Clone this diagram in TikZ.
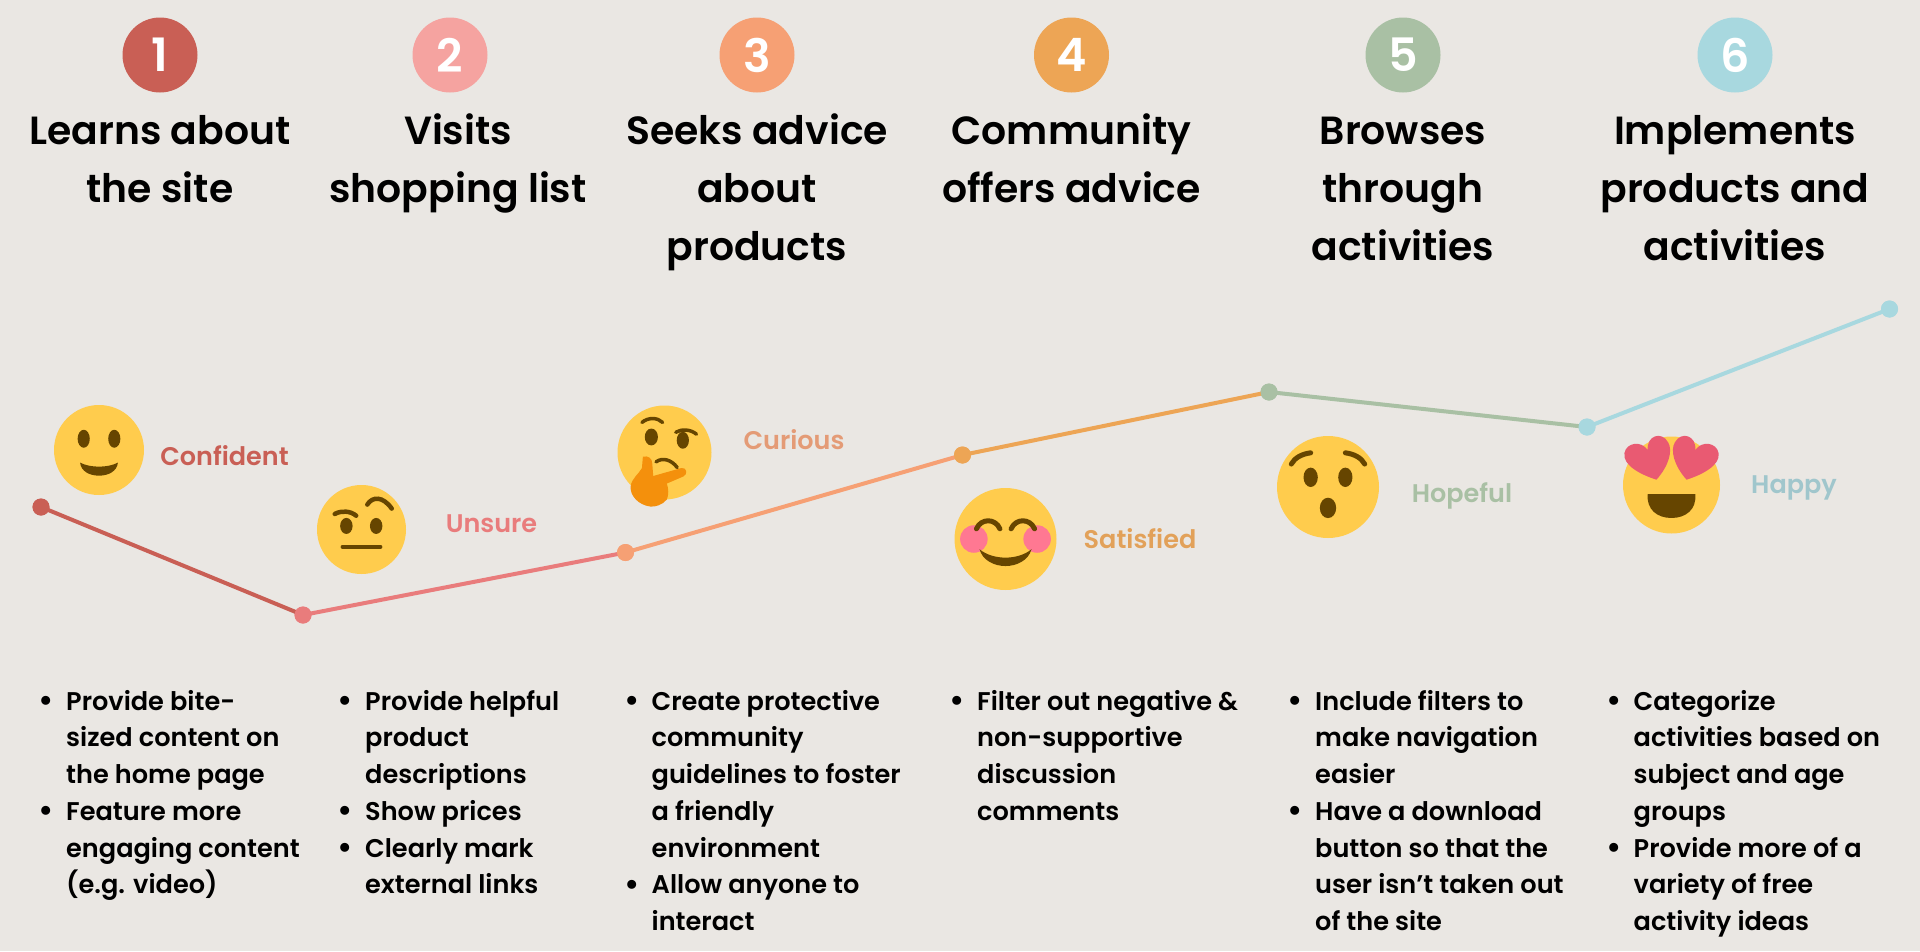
\documentclass[tikz,border=0pt]{standalone}
\usepackage{fontspec}
\setmainfont{Poppins SemiBold}
\definecolor{bgc}{HTML}{EAE7E3}
\definecolor{cA}{HTML}{C95F55}
\definecolor{cB}{HTML}{F5A3A0}
\definecolor{cC}{HTML}{F6A074}
\definecolor{cD}{HTML}{EDA555}
\definecolor{cE}{HTML}{A9C0A4}
\definecolor{cF}{HTML}{A8D8DF}
\definecolor{lB}{HTML}{E97C7C}
\definecolor{yel}{HTML}{FFCC4D}
\definecolor{brn}{HTML}{664500}
\definecolor{hand}{HTML}{F4900C}
\definecolor{pinkc}{HTML}{FF7892}
\definecolor{heartc}{HTML}{E95A72}
\newcommand{\bitem}[1]{\llap{\raisebox{-1.5pt}{\fontsize{32}{32}\selectfont\textbullet}\hspace{12pt}}#1}
\tikzset{
  x=1pt,y=-1pt,
  numdisc/.style={circle,minimum size=75pt,inner sep=0pt,text=white,font=\fontsize{46}{46}\selectfont},
  headtext/.style={align=center,inner sep=0pt,anchor=north,text=black,font=\fontsize{39.3}{58}\selectfont},
  bodytext/.style={align=left,inner sep=0pt,anchor=north west,text=black,font=\fontsize{25.6}{36.7}\selectfont},
  moodtext/.style={inner sep=0pt,anchor=base,font=\fontsize{25.5}{25.5}\selectfont},
  dotmark/.style={circle,minimum size=17pt,inner sep=0pt,fill=#1},
  seg/.style={draw=#1,line width=4pt},
  emo/.style n args={3}{shift={(#1,#2)},x=#3 pt,y=-#3 pt},
  face/.style={fill=yel},
  feat/.style={fill=brn},
  stroke/.style={draw=brn,line width=#1pt,line cap=round},
}
\begin{document}
\begin{tikzpicture}
\fill[bgc] (0,0) rectangle (1920,951);
\useasboundingbox (0,0) rectangle (1920,951);

% numbered discs
\node[numdisc,fill=cA] (n1) at (160,55) {1};
\node[numdisc,fill=cB] (n2) at (450,55) {2};
\node[numdisc,fill=cC] (n3) at (757,55) {3};
\node[numdisc,fill=cD] (n4) at (1071.5,55) {4};
\node[numdisc,fill=cE] (n5) at (1403,55) {5};
\node[numdisc,fill=cF] (n6) at (1735,55) {6};

% headings
\node[headtext] (h1) at (160,103.4) {\strut Learns about\\the site};
\node[headtext] (h2) at (458,103.4) {\strut Visits\\shopping list};
\node[headtext] (h3) at (757,103.4) {\strut Seeks advice\\about\\products};
\node[headtext] (h4) at (1071.5,103.4) {\strut Community\\offers advice};
\node[headtext] (h5) at (1403,103.4) {\strut Browses\\through\\activities};
\node[headtext] (h6) at (1735,103.4) {\strut Implements\\products and\\activities};

% journey line
\node[dotmark=cA] (p1) at (41,507) {};
\node[dotmark=lB] (p2) at (303,615) {};
\node[dotmark=cC] (p3) at (625.5,552.5) {};
\node[dotmark=cD] (p4) at (962.5,455) {};
\node[dotmark=cE] (p5) at (1269,392) {};
\node[dotmark=cF] (p6) at (1587,427) {};
\node[dotmark=cF] (p7) at (1889.5,309) {};
\draw[seg=cA] (p1.center) -- (p2.center);
\draw[seg=lB] (p2.center) -- (p3.center);
\draw[seg=cC] (p3.center) -- (p4.center);
\draw[seg=cD] (p4.center) -- (p5.center);
\draw[seg=cE] (p5.center) -- (p6.center);
\draw[seg=cF] (p6.center) -- (p7.center);
\node[dotmark=cA] at (p1) {};
\node[dotmark=lB] at (p2) {};
\node[dotmark=cC] at (p3) {};
\node[dotmark=cD] at (p4) {};
\node[dotmark=cE] at (p5) {};
\node[dotmark=cF] at (p6) {};
\node[dotmark=cF] at (p7) {};

% mood labels
\node[moodtext,text=cA] (m1) at (224.5,465.5) {Confident};
\node[moodtext,text=lB] (m2) at (491.5,532.7) {Unsure};
\node[moodtext,text=cC!85!gray] (m3) at (794,449) {Curious};
\node[moodtext,text=cD!90!gray] (m4) at (1140,548) {Satisfied};
\node[moodtext,text=cE] (m5) at (1462,502) {Hopeful};
\node[moodtext,text=cF!80!gray] (m6) at (1794,493.7) {Happy};

% emoji 1: smile
\begin{scope}[emo={99}{450}{45}]
\fill[face] (0,0) circle [radius=1];
\fill[feat] (-.34,-.25) ellipse [x radius=.135,y radius=.2];
\fill[feat] (.34,-.25) ellipse [x radius=.135,y radius=.2];
\fill[feat] (-.42,.28) .. controls (-.2,.4) and (.2,.4) .. (.42,.28) .. controls (.4,.48) and (.2,.57) .. (0,.57) .. controls (-.2,.57) and (-.4,.48) .. cycle;
\end{scope}

% emoji 2: raised brow
\begin{scope}[emo={361.5}{529.5}{44.5}]
\fill[face] (0,0) circle [radius=1];
\fill[feat] (-.34,-.08) ellipse [x radius=.14,y radius=.18];
\fill[feat] (.33,-.08) ellipse [x radius=.14,y radius=.18];
\draw[stroke=4.5] (-.42,.39) -- (.42,.39);
\draw[stroke=4.5] (-.6,-.35) .. controls (-.45,-.43) and (-.25,-.42) .. (-.12,-.31);
\draw[stroke=4.5] (.13,-.56) .. controls (.25,-.75) and (.48,-.75) .. (.68,-.47);
\end{scope}

% emoji 3: thinking
\begin{scope}[emo={664.5}{452.5}{47}]
\fill[face] (0,0) circle [radius=1];
\fill[feat] (-.28,-.33) ellipse [x radius=.14,y radius=.18];
\fill[feat] (.39,-.26) ellipse [x radius=.13,y radius=.18];
\draw[stroke=3.5] (-.48,-.64) .. controls (-.35,-.75) and (-.15,-.75) .. (-.04,-.64);
\draw[stroke=3.5] (.24,-.43) .. controls (.35,-.5) and (.55,-.5) .. (.68,-.39);
\draw[stroke=3.5] (-.18,.2) .. controls (-.05,.1) and (.15,.15) .. (.27,.32);
\fill[hand] (-.46,.09) .. controls (-.35,.06) and (-.26,.12) .. (-.26,.24) -- (-.24,.5) -- (.36,.33) .. controls (.48,.31) and (.5,.47) .. (.4,.51) -- (.05,.66) .. controls (.09,.78) and (.09,.9) .. (.05,1) .. controls (-.05,1.12) and (-.2,1.16) .. (-.3,1.15) .. controls (-.55,1.12) and (-.74,.92) .. (-.72,.72) .. controls (-.7,.55) and (-.54,.45) .. (-.48,.33) -- cycle;
\end{scope}

% emoji 4: blush
\begin{scope}[emo={1005.5}{539}{51}]
\fill[face] (0,0) circle [radius=1];
\fill[pinkc] (-.62,0) circle [radius=.27];
\fill[pinkc] (.62,0) circle [radius=.27];
\draw[stroke=5] (-.57,-.2) .. controls (-.48,-.41) and (-.2,-.41) .. (-.11,-.2);
\draw[stroke=5] (.57,-.2) .. controls (.48,-.41) and (.2,-.41) .. (.11,-.2);
\fill[feat] (-.51,.2) .. controls (-.25,.42) and (.25,.42) .. (.51,.2) .. controls (.45,.42) and (.22,.53) .. (0,.53) .. controls (-.22,.53) and (-.45,.42) .. cycle;
\end{scope}

% emoji 5: hushed
\begin{scope}[emo={1328}{487}{51}]
\fill[face] (0,0) circle [radius=1];
\fill[feat] (-.34,-.19) ellipse [x radius=.14,y radius=.19];
\fill[feat] (.34,-.19) ellipse [x radius=.14,y radius=.19];
\fill[feat] (0,.41) ellipse [x radius=.16,y radius=.2];
\draw[stroke=5] (-.72,-.45) .. controls (-.65,-.58) and (-.5,-.65) .. (-.34,-.67);
\draw[stroke=5] (.72,-.45) .. controls (.65,-.58) and (.5,-.65) .. (.34,-.67);
\end{scope}

% emoji 6: heart eyes
\begin{scope}[emo={1671.5}{485}{48.5}]
\fill[face] (0,0) circle [radius=1];
\fill[feat] (-.49,.19) -- (.49,.19) .. controls (.52,.5) and (.3,.68) .. (0,.68) .. controls (-.3,.68) and (-.52,.5) .. cycle;
\fill[heartc] (-.31,-.11) .. controls (-.6,-.2) and (-1.02,-.4) .. (-.97,-.66) .. controls (-.93,-.88) and (-.62,-.92) .. (-.49,-.72) .. controls (-.52,-1.02) and (-.2,-1.12) .. (-.07,-.88) .. controls (.03,-.72) and (-.05,-.4) .. cycle;
\fill[heartc] (.31,-.11) .. controls (.6,-.2) and (1.02,-.4) .. (.97,-.66) .. controls (.93,-.88) and (.62,-.92) .. (.49,-.72) .. controls (.52,-1.02) and (.2,-1.12) .. (.07,-.88) .. controls (-.03,-.72) and (.05,-.4) .. cycle;
\end{scope}

% bullet text
\node[bodytext] (b1) at (66,690) {\bitem{Provide bite-}\\sized content on\\the home page\\\bitem{Feature more}\\engaging content\\(e.g. video)};
\node[bodytext] (b2) at (365,690) {\bitem{Provide helpful}\\product\\descriptions\\\bitem{Show prices}\\\bitem{Clearly mark}\\external links};
\node[bodytext] (b3) at (651.5,690) {\bitem{Create protective}\\community\\guidelines to foster\\a friendly\\environment\\\bitem{Allow anyone to}\\interact};
\node[bodytext] (b4) at (977,690) {\bitem{Filter out negative \&}\\non-supportive\\discussion\\comments};
\node[bodytext] (b5) at (1315,690) {\bitem{Include filters to}\\make navigation\\easier\\\bitem{Have a download}\\button so that the\\user isn’t taken out\\of the site};
\node[bodytext] (b6) at (1633.5,690) {\bitem{Categorize}\\activities based on\\subject and age\\groups\\\bitem{Provide more of a}\\variety of free\\activity ideas};
\end{tikzpicture}
\end{document}
